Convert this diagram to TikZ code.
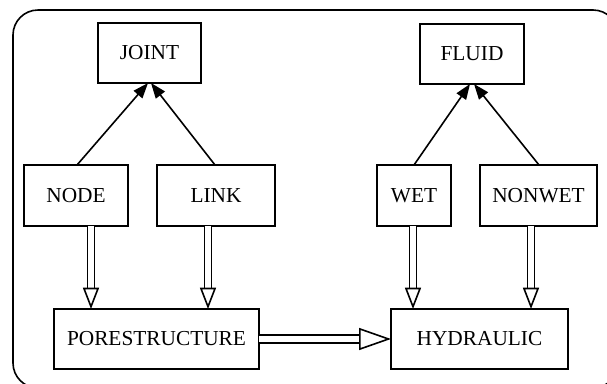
\documentclass[tikz,border=0pt]{standalone}
\usepackage{fontspec}
\setmainfont{Liberation Serif}
\usetikzlibrary{arrows.meta,calc}
\begin{document}
\begin{tikzpicture}[x=0.75pt,y=-0.75pt,
  box/.style={draw,line width=1.2pt,inner sep=0pt,outer sep=0pt,minimum height=45pt,font=\fontsize{16}{18}\selectfont},
  thinarrow/.style={line width=1.2pt,-{Triangle[length=11.5pt,width=8.5pt]}},
  dblshaft/.style={double,double distance=3.8pt,line width=1.2pt},
  openhead/.style={line width=1.2pt,-{Triangle[fill=white,length=16pt,width=12pt]}},
  bighead/.style={line width=1.2pt,-{Triangle[fill=white,length=24pt,width=16.5pt]}}]
\useasboundingbox (0,0) rectangle (607,383);
\clip (0,0) rectangle (607,383);
\draw[line width=1.2pt,rounded corners=18.75pt] (13,10) rectangle (618,388);

\node[box,minimum width=77.25pt] (joint) at (149.5,53) {JOINT};
\node[box,minimum width=78pt] (fluid) at (472,54) {FLUID};
\node[box,minimum width=78pt,minimum height=45.75pt] (nd) at (76,195.5) {NODE};
\node[box,minimum width=88.5pt,minimum height=45.75pt] (lk) at (216,195.5) {LINK};
\node[box,minimum width=55.5pt,minimum height=45.75pt] (wet) at (414,195.5) {WET};
\node[box,minimum width=87.75pt,minimum height=45.75pt] (nwet) at (538.5,195.5) {NONWET};
\node[box,minimum width=153.75pt] (por) at (156.5,339) {PORESTRUCTURE};
\node[box,minimum width=132.75pt] (hyd) at (479.5,339) {HYDRAULIC};

\draw[thinarrow] ($(nd.north)+(1,0)$) -- ($(joint.south)+(-1.5,0)$);
\draw[thinarrow] ($(lk.north)+(-1,0)$) -- ($(joint.south)+(1.5,0)$);
\draw[thinarrow] (wet.north) -- ($(fluid.south)+(-2,0)$);
\draw[thinarrow] ($(nwet.north)+(0.5,0)$) -- ($(fluid.south)+(2,0)$);

\coordinate (a1) at ($(nd.south)+(15,0)$);
\coordinate (a2) at ($(lk.south)+(-8,0)$);
\coordinate (a3) at ($(wet.south)+(-1,0)$);
\coordinate (a4) at ($(nwet.south)+(-7.5,0)$);

\draw[dblshaft] (a1) -- ($(a1 |- por.north)+(0,-21)$);
\draw[openhead] ($(a1 |- por.north)+(0,-21)$) -- (a1 |- por.north);
\draw[dblshaft] (a2) -- ($(a2 |- por.north)+(0,-21)$);
\draw[openhead] ($(a2 |- por.north)+(0,-21)$) -- (a2 |- por.north);
\draw[dblshaft] (a3) -- ($(a3 |- hyd.north)+(0,-21)$);
\draw[openhead] ($(a3 |- hyd.north)+(0,-21)$) -- (a3 |- hyd.north);
\draw[dblshaft] (a4) -- ($(a4 |- hyd.north)+(0,-21)$);
\draw[openhead] ($(a4 |- hyd.north)+(0,-21)$) -- (a4 |- hyd.north);

\draw[dblshaft,double distance=4.4pt] (por.east) -- ($(hyd.west)+(-32,0)$);
\draw[bighead] ($(hyd.west)+(-32,0)$) -- (hyd.west);
\end{tikzpicture}
\end{document}
